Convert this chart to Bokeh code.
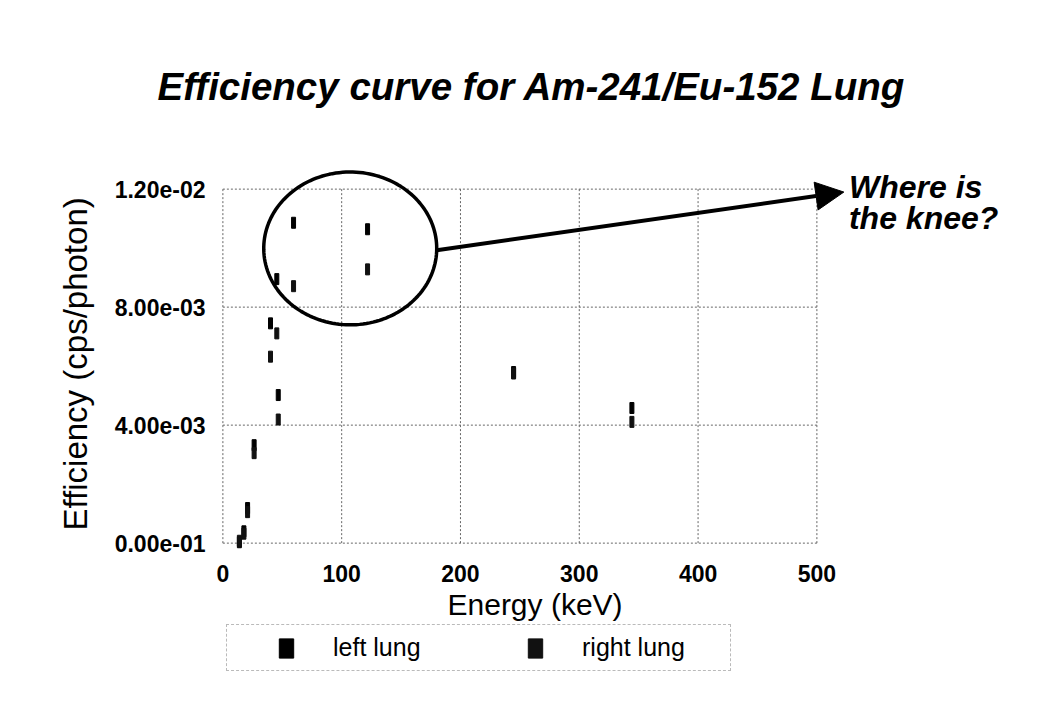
import numpy as np
from bokeh.plotting import figure
from bokeh.layouts import column
from bokeh.models import (Range1d, FixedTicker, Legend, LegendItem, Label, Arrow, Title,
                          NormalHead, PolyAnnotation, ColumnDataSource)
from bokeh.embed import file_html
from bokeh.resources import INLINE

# ---------------- data ----------------
energy_keV = [13.9, 17.7, 20.8, 26.3, 40.1, 45.4, 46.6, 59.5, 121.8, 244.7, 344.3]
eff_left_lung = [0.00003, 0.00040, 0.00119, 0.00332, 0.00745, 0.00895, 0.00502,
                 0.01086, 0.01064, 0.00580, 0.00458]
eff_right_lung = [0.00008, 0.00032, 0.00105, 0.00305, 0.00632, 0.00711, 0.00419,
                  0.00871, 0.00928, 0.00575, 0.00411]

x_ticks = [0, 100, 200, 300, 400, 500]
y_ticks = [0, 0.004, 0.008, 0.012]
y_tick_labels = ["0.00e-01", "4.00e-03", "8.00e-03", "1.20e-02"]

series_names = ["left lung", "right lung"]
title_text = "Efficiency curve for Am-241/Eu-152 Lung"
x_label = "Energy (keV)"
y_label = "Efficiency (cps/photon)"
note_lines = ["Where is", "the knee?"]

FONT = "Liberation Sans"

# ---------------- layout (pixels) ----------------
PX_PER_KEV = 594 / 500.0        # horizontal scale of the plot box
PX_PER_UNIT = 354 / 0.012       # vertical scale of the plot box
FRAME_L, FRAME_R, FRAME_T, FRAME_B = 220, 1040, 140, 550
W = 1045
BOTTOM = 74
x0 = -2.0
y0 = -0.00025
x1 = x0 + (FRAME_R - FRAME_L) / PX_PER_KEV
y1 = y0 + (FRAME_B - FRAME_T) / PX_PER_UNIT

p = figure(frame_width=FRAME_R - FRAME_L, frame_height=FRAME_B - FRAME_T,
           x_range=Range1d(x0, x1), y_range=Range1d(y0, y1),
           output_backend="svg", toolbar_location=None,
           min_border_left=FRAME_L, min_border_right=W - FRAME_R,
           min_border_top=FRAME_T, min_border_bottom=BOTTOM)
p.background_fill_color = "white"
p.border_fill_color = "white"
p.outline_line_color = None
p.xgrid.grid_line_color = None
p.ygrid.grid_line_color = None

# title
p.title.text = title_text
p.title.text_font = FONT
p.title.text_font_size = "38.5px"
p.title.text_font_style = "bold italic"
p.title.text_color = "black"
p.title.align = "left"
p.title.offset = -63
if "standoff" in p.title.properties():
    p.title.standoff = 66

for ax in (p.xaxis, p.yaxis):
    ax.axis_line_color = None
    ax.major_tick_line_color = None
    ax.minor_tick_line_color = None
    ax.major_tick_in = 0
    ax.major_tick_out = 0
    ax.minor_tick_in = 0
    ax.minor_tick_out = 0
    ax.major_label_text_font = FONT
    ax.major_label_text_font_style = "bold"
    ax.major_label_text_font_size = "23px"
    ax.major_label_text_color = "black"

p.xaxis.ticker = FixedTicker(ticks=x_ticks)
p.yaxis.ticker = FixedTicker(ticks=y_ticks)
p.yaxis.major_label_overrides = dict(zip(y_ticks, y_tick_labels))
p.xaxis.major_label_standoff = 14
p.yaxis.major_label_standoff = 15

# axis titles (placed in the side panels next to the axes)
xt = Title(text=x_label, align="left", offset=227, text_font=FONT, text_font_size="30px",
           text_font_style="normal", text_color="black")
yt = Title(text=y_label, align="left", offset=20, text_font=FONT, text_font_size="33px",
           text_font_style="normal", text_color="black")
if "standoff" in xt.properties():
    xt.standoff = 2
    yt.standoff = 36
p.add_layout(xt, "below")
p.add_layout(yt, "left")

# plot box and grid (dotted), drawn over the tick range only
gx0 = x_ticks + [x_ticks[0]] * len(y_ticks)
gx1 = x_ticks + [x_ticks[-1]] * len(y_ticks)
gy0 = [y_ticks[0]] * len(x_ticks) + y_ticks
gy1 = [y_ticks[-1]] * len(x_ticks) + y_ticks
p.segment(x0=gx0, y0=gy0, x1=gx1, y1=gy1, line_color="#666666", line_dash="2 2",
          line_width=1)

src_l = ColumnDataSource(dict(x=energy_keV, y=eff_left_lung))
src_r = ColumnDataSource(dict(x=energy_keV, y=eff_right_lung))
mark = dict(width=4, height=11, width_units="screen", height_units="screen")
p.rect(x="x", y="y", color="black", source=src_l, **mark)
p.rect(x="x", y="y", color="#111111", source=src_r, **mark)

# ---------------- annotations ----------------
cx, cy, a, b = 107.2, 0.00999, 72.8, 0.00259
t = np.linspace(0, 2 * np.pi, 160)
p.add_layout(PolyAnnotation(xs=list(cx + a * np.cos(t)), ys=list(cy + b * np.sin(t)),
                            fill_alpha=0, line_color="black", line_alpha=1, line_width=3.5))

p.add_layout(Arrow(end=NormalHead(size=28, fill_color="black", line_color="black"),
                   x_start=cx + a, y_start=0.00993, x_end=522.7, y_end=0.0119,
                   line_width=4, line_color="black"))

p.add_layout(Label(x=527, y=0.01207, text=note_lines[0], text_baseline="alphabetic",
                   text_font=FONT, text_font_size="32px", text_font_style="bold italic",
                   text_color="black"))
p.add_layout(Label(x=527, y=0.01102, text=note_lines[1], text_baseline="alphabetic",
                   text_font=FONT, text_font_size="32px", text_font_style="bold italic",
                   text_color="black"))

# ---------------- legend strip under the chart ----------------
# the strip's own ranges lie far from the data, so its copies of the series stay out of
# view and only serve as legend swatches
LEG_H = 50
p2 = figure(frame_width=W, frame_height=LEG_H, x_range=Range1d(-2000, -1000),
            y_range=Range1d(-2, -1),
            output_backend="svg", toolbar_location=None,
            x_axis_location=None, y_axis_location=None, min_border=0)
p2.outline_line_color = None
p2.background_fill_color = "white"
p2.border_fill_color = "white"
p2.grid.visible = False
lr_left = p2.rect(x="x", y="y", color="black", source=src_l, **mark)
lr_right = p2.rect(x="x", y="y", color="#111111", source=src_r, **mark)

legend = Legend(items=[LegendItem(label=series_names[0], renderers=[lr_left]),
                       LegendItem(label=series_names[1], renderers=[lr_right])],
                orientation="horizontal", location=(226, 3), margin=0,
                padding=8, spacing=53, label_standoff=38, label_width=140,
                glyph_width=18, glyph_height=24,
                title=" ", title_location="left", title_text_font_size="1px",
                title_standoff=41,
                label_text_font=FONT, label_text_font_size="25px", label_text_color="black",
                border_line_color="#777777", border_line_dash="2 2", border_line_width=1,
                background_fill_color="white", background_fill_alpha=1)
p2.add_layout(legend)

page = column(p, p2, spacing=0)
open("out.html", "w").write(file_html(page, INLINE))
